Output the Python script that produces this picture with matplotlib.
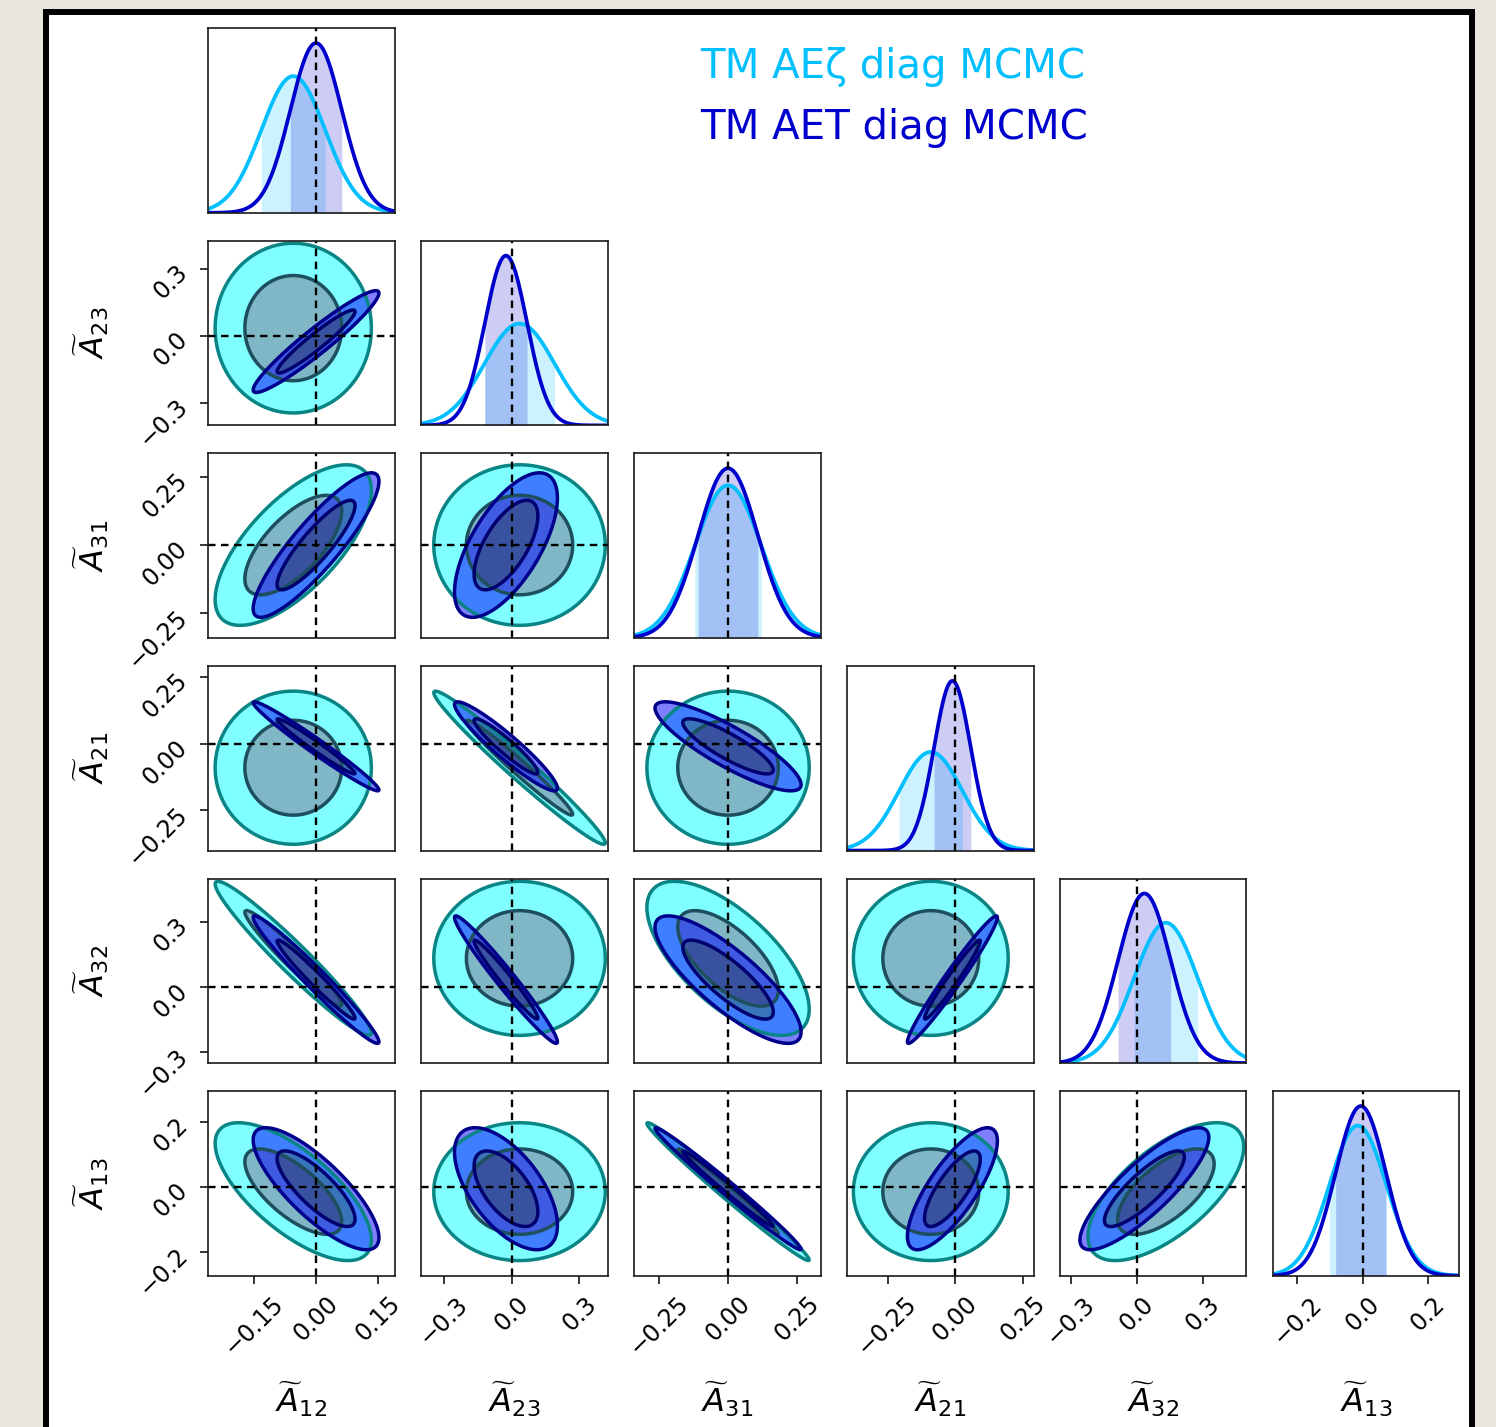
import numpy as np
import matplotlib.pyplot as plt
from matplotlib.patches import Rectangle

W, H = 1496, 1427

# parameters of the triangle plot
param_labels = [r'$\widetilde{A}_{12}$', r'$\widetilde{A}_{23}$', r'$\widetilde{A}_{31}$',
                r'$\widetilde{A}_{21}$', r'$\widetilde{A}_{32}$', r'$\widetilde{A}_{13}$']
param_lims = [(-0.26, 0.19), (-0.40, 0.425), (-0.34, 0.335),
              (-0.40, 0.29), (-0.35, 0.50), (-0.275, 0.295)]
param_ticks = [[-0.15, 0.0, 0.15], [-0.3, 0.0, 0.3], [-0.25, 0.0, 0.25],
               [-0.25, 0.0, 0.25], [-0.3, 0.0, 0.3], [-0.2, 0.0, 0.2]]
param_ticklabels = [['\u22120.15', '0.00', '0.15'], ['\u22120.3', '0.0', '0.3'],
                    ['\u22120.25', '0.00', '0.25'], ['\u22120.25', '0.00', '0.25'],
                    ['\u22120.3', '0.0', '0.3'], ['\u22120.2', '0.0', '0.2']]
truth = [0.0, 0.0, 0.0, 0.0, 0.0, 0.0]

# posterior summaries: TM AEzeta diag MCMC
aez_mean = [-0.055, 0.035, 0.0, -0.09, 0.133, -0.015]
aez_sigma = [0.077, 0.155, 0.12, 0.117, 0.145, 0.087]
aez_corr = [
    [1.0, 0.0, 0.68, 0.0, -0.965, -0.70],
    [0.0, 1.0, 0.0, -0.98, 0.0, 0.0],
    [0.68, 0.0, 1.0, 0.0, -0.66, -0.99],
    [0.0, -0.98, 0.0, 1.0, 0.0, 0.0],
    [-0.965, 0.0, -0.66, 0.0, 1.0, 0.65],
    [-0.70, 0.0, -0.99, 0.0, 0.65, 1.0],
]

# TM AET diag MCMC
aet_mean = [0.0, -0.025, 0.0, -0.01, 0.035, -0.006]
aet_sigma = [0.062, 0.093, 0.108, 0.068, 0.12, 0.077]
aet_corr = [
    [1.0, 0.95, 0.88, -0.98, -0.975, -0.80],
    [0.95, 1.0, 0.65, -0.94, -0.975, -0.60],
    [0.88, 0.65, 1.0, -0.86, -0.82, -0.99],
    [-0.98, -0.94, -0.86, 1.0, 0.975, 0.78],
    [-0.975, -0.975, -0.82, 0.975, 1.0, 0.84],
    [-0.80, -0.60, -0.99, 0.78, 0.84, 1.0],
]

chains = [
    dict(name='TM AE\u03b6 diag MCMC', mean=aez_mean, sigma=aez_sigma, corr=aez_corr,
         line='#00bfff', fill=[(0.0, 0.44, 0.56, 0.5), (0.0, 1.0, 1.0, 0.5)],
         edge=['#1d4f5e', '#0a8585']),
    dict(name='TM AET diag MCMC', mean=aet_mean, sigma=aet_sigma, corr=aet_corr,
         line='#0000cd', fill=[(0.0, 0.0, 0.5, 0.55), (0.0, 0.0, 1.0, 0.5)],
         edge=['#00006e', '#00008b']),
]

# 68% / 95% levels of a 2D gaussian in delta chi^2
levels2d = [0.0, 2.30, 5.99]

n = len(param_labels)
fig = plt.figure(figsize=(W / 100, H / 100), dpi=100, facecolor='#e9e6e0')
fig.add_artist(Rectangle((46 / W, -0.02), (1471.5 - 46) / W, 1.02 - 12 / H,
                         transform=fig.transFigure, facecolor='white',
                         edgecolor='black', lw=4.3, zorder=-10))

left0, pitch_x, aw = 208.3, 212.9, 186.5
top0, pitch_y, ah = 28.3, 212.6, 184.5
dash = (0, (3.2, 2.3))
tick_fs = 17


def style_ticks(ax, row, col):
    ax.tick_params(direction='out', length=5.5, width=1.1)
    if row == n - 1:
        ax.set_xticks(param_ticks[col], param_ticklabels[col], rotation=45,
                      fontsize=tick_fs)
        ax.tick_params(axis='x', pad=6)
        ax.set_xlabel(param_labels[col], fontsize=23)
        ax.xaxis.set_label_coords(0.5, -0.56)
        ax.xaxis.label.set_va('top')
    else:
        ax.set_xticks([])
    if col == 0 and row > 0:
        ax.set_yticks(param_ticks[row], param_ticklabels[row], rotation=45,
                      rotation_mode='anchor', ha='right', va='center',
                      fontsize=tick_fs)
        ax.tick_params(axis='y', pad=12)
        ax.set_ylabel(param_labels[row], fontsize=23)
        ax.yaxis.set_label_coords(-0.52, 0.5)
    else:
        ax.set_yticks([])
    for sp in ax.spines.values():
        sp.set_linewidth(1.2)
        sp.set_color('#1a1a1a')


for row in range(n):
    for col in range(row + 1):
        x0 = left0 + pitch_x * col
        y0 = top0 + pitch_y * row
        ax = fig.add_axes([x0 / W, 1 - (y0 + ah) / H, aw / W, ah / H])
        xlo, xhi = param_lims[col]
        if row == col:
            xs = np.linspace(xlo, xhi, 500)
            top = 0.0
            for ch in chains:
                m, s = ch['mean'][col], ch['sigma'][col]
                pdf = np.exp(-0.5 * ((xs - m) / s) ** 2) / (s * np.sqrt(2 * np.pi))
                xb = np.linspace(m - s, m + s, 200)
                pb = np.exp(-0.5 * ((xb - m) / s) ** 2) / (s * np.sqrt(2 * np.pi))
                ax.fill_between(xb, 0, pb, color=ch['line'], alpha=0.2, lw=0)
                ax.plot(xs, pdf, color=ch['line'], lw=2.7)
                top = max(top, pdf.max())
            ax.set_ylim(0, top / 0.92)
            ax.axvline(truth[col], color='black', ls=dash, lw=1.7)
        else:
            ylo, yhi = param_lims[row]
            gx = np.linspace(xlo - 0.1 * (xhi - xlo), xhi + 0.1 * (xhi - xlo), 400)
            gy = np.linspace(ylo - 0.1 * (yhi - ylo), yhi + 0.1 * (yhi - ylo), 400)
            X, Y = np.meshgrid(gx, gy)
            for ch in chains:
                mx, my = ch['mean'][col], ch['mean'][row]
                sx, sy = ch['sigma'][col], ch['sigma'][row]
                rho = ch['corr'][row][col]
                dx = (X - mx) / sx
                dy = (Y - my) / sy
                chi2 = (dx ** 2 - 2 * rho * dx * dy + dy ** 2) / (1 - rho ** 2)
                ax.contourf(X, Y, chi2, levels=levels2d, colors=ch['fill'])
                ax.contour(X, Y, chi2, levels=levels2d[1:], colors=ch['edge'],
                           linewidths=2.5)
            ax.set_ylim(ylo, yhi)
            ax.axvline(truth[col], color='black', ls=dash, lw=1.7)
            ax.axhline(truth[row], color='black', ls=dash, lw=1.7)
        ax.set_xlim(xlo, xhi)
        style_ticks(ax, row, col)

# legend as coloured text
fig.text(700 / W, 1 - 78 / H, chains[0]['name'], color=chains[0]['line'],
         fontsize=29, va='baseline')
fig.text(700 / W, 1 - 139 / H, chains[1]['name'], color=chains[1]['line'],
         fontsize=29, va='baseline')

fig.savefig('out.png', dpi=100, facecolor=fig.get_facecolor())
